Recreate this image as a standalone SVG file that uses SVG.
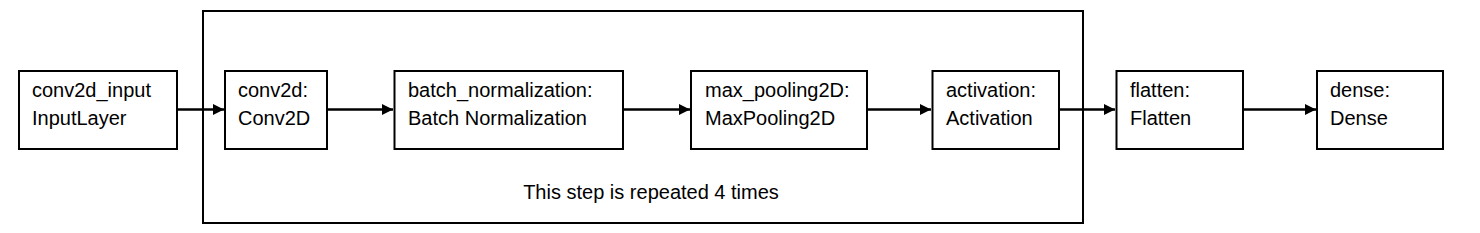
<svg xmlns="http://www.w3.org/2000/svg" width="1480" height="233" viewBox="0 0 1480 233">
<defs>
<style>
.box{fill:#fff;stroke:#000;stroke-width:2}
.frame{fill:none;stroke:#000;stroke-width:2}
.lbl{font-family:"Liberation Sans",Arial,sans-serif;font-size:20px;fill:#000}
.edge{stroke:#000;stroke-width:2.5;fill:none}
</style>
<marker id="ah" markerWidth="12" markerHeight="12" refX="11" refY="6" orient="auto" markerUnits="userSpaceOnUse">
<path d="M0,0.5 L11,6 L0,11.5 Z" fill="#000"/>
</marker>
</defs>
<rect width="1480" height="233" fill="#fff"/>
<g id="repeat-frame">
<rect class="frame" x="203" y="11" width="880" height="212"/>
<text class="lbl" x="651" y="199" text-anchor="middle">This step is repeated 4 times</text>
</g>
<g id="connectors">
<line class="edge" x1="177" y1="109.5" x2="224" y2="109.5" marker-end="url(#ah)"/>
<line class="edge" x1="327" y1="109.5" x2="393" y2="109.5" marker-end="url(#ah)"/>
<line class="edge" x1="623" y1="109.5" x2="690" y2="109.5" marker-end="url(#ah)"/>
<line class="edge" x1="867" y1="109.5" x2="931" y2="109.5" marker-end="url(#ah)"/>
<line class="edge" x1="1059" y1="109.5" x2="1115" y2="109.5" marker-end="url(#ah)"/>
<line class="edge" x1="1243" y1="109.5" x2="1316" y2="109.5" marker-end="url(#ah)"/>
</g>
<g id="n-input">
<rect class="box" x="19" y="71" width="158" height="78"/>
<text class="lbl" x="32" y="96.5">conv2d_input</text>
<text class="lbl" x="32" y="125">InputLayer</text>
</g>
<g id="n-conv2d">
<rect class="box" x="225" y="71" width="102" height="78"/>
<text class="lbl" x="238" y="96.5">conv2d:</text>
<text class="lbl" x="238" y="125">Conv2D</text>
</g>
<g id="n-batchnorm">
<rect class="box" x="394.5" y="71" width="228.5" height="78"/>
<text class="lbl" x="408" y="96.5">batch_normalization:</text>
<text class="lbl" x="408" y="125">Batch Normalization</text>
</g>
<g id="n-maxpool">
<rect class="box" x="691" y="71" width="176" height="78"/>
<text class="lbl" x="705" y="96.5">max_pooling2D:</text>
<text class="lbl" x="705" y="125">MaxPooling2D</text>
</g>
<g id="n-activation">
<rect class="box" x="932.5" y="71" width="126.5" height="78"/>
<text class="lbl" x="946" y="96.5">activation:</text>
<text class="lbl" x="946" y="125">Activation</text>
</g>
<g id="n-flatten">
<rect class="box" x="1116.5" y="71" width="126.5" height="78"/>
<text class="lbl" x="1130" y="96.5">flatten:</text>
<text class="lbl" x="1130" y="125">Flatten</text>
</g>
<g id="n-dense">
<rect class="box" x="1317" y="71" width="126" height="78"/>
<text class="lbl" x="1330" y="96.5">dense:</text>
<text class="lbl" x="1330" y="125">Dense</text>
</g>
</svg>
